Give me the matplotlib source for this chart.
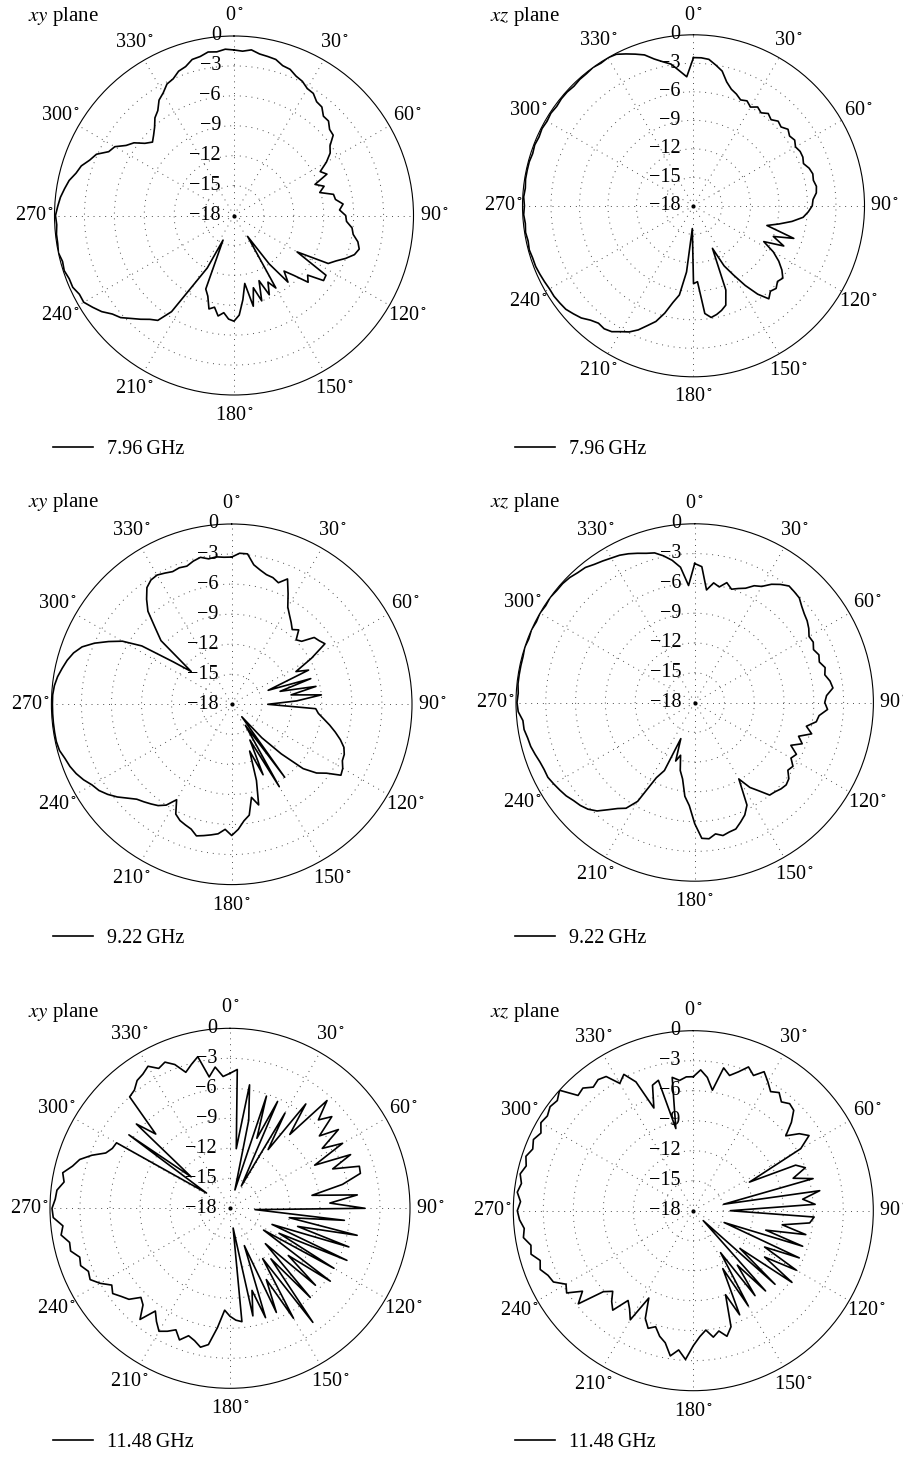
import numpy as np
import matplotlib.pyplot as plt
from matplotlib.transforms import offset_copy

plt.rcParams['font.family'] = ['Liberation Serif', 'DejaVu Serif']
plt.rcParams['mathtext.fontset'] = 'stix'

# measured gain (dB) every 3 degrees, 0..357
angles_deg = np.arange(0, 360, 3)

xy_796 = [-1.4, -1.5, -1.3, -1.6, -1.7, -1.8, -2.2, -2.3, -2.7, -2.9, -3.3, -3.4,
          -3.9, -4.0, -4.6, -4.6, -5.1, -5.2, -6.1, -6.5, -7.3, -8.3, -7.8, -9.3,
          -8.5, -9.1, -7.8, -7.7, -7.0, -7.4, -6.8, -6.7, -6.1, -5.9, -5.3, -5.0,
          -5.3, -6.0, -6.8, -7.4, -10.7, -7.0, -6.9, -8.5, -8.0, -9.5, -10.5, -9.4,
          -12.0, -15.5, -9.6, -10.5, -9.3, -11.0, -9.0, -10.5, -8.7, -11.1, -9.5, -8.0,
          -7.4, -7.6, -8.2, -7.8, -8.6, -8.3, -9.5, -10.1, -15.3, -12.1, -10.2, -6.5,
          -5.0, -4.6, -4.0, -3.4, -2.7, -2.3, -1.6, -1.1, -0.6, -0.6, -0.3, -0.3,
          -0.1, -0.2, 0.0, -0.1, -0.1, -0.2, -0.1, -0.3, -0.5, -0.8, -1.1, -1.6,
          -1.9, -2.5, -2.9, -3.9, -4.2, -5.1, -5.6, -6.5, -7.0, -6.6, -6.1, -5.4,
          -5.0, -4.2, -3.8, -3.2, -3.0, -2.5, -2.3, -1.8, -1.7, -1.4, -1.5, -1.3]

xz_796 = [-2.4, -2.4, -2.5, -3.0, -3.5, -4.5, -5.1, -5.4, -5.8, -5.6, -6.0, -5.6,
          -5.9, -5.5, -5.8, -5.4, -5.6, -5.2, -5.5, -5.3, -5.6, -5.4, -5.4, -5.6,
          -5.2, -5.0, -5.1, -4.9, -5.0, -5.4, -5.5, -5.9, -6.4, -7.5, -8.8, -10.0,
          -6.9, -9.0, -7.6, -9.7, -8.3, -7.3, -6.5, -5.9, -6.1, -5.7, -5.9, -5.4,
          -6.5, -8.0, -9.6, -10.9, -13.1, -8.5, -7.0, -6.6, -6.3, -6.1, -6.6, -10.0,
          -9.8, -15.6, -11.0, -8.5, -7.6, -6.3, -5.2, -4.5, -3.7, -3.1, -2.7, -2.2,
          -2.0, -2.1, -1.8, -1.3, -1.0, -0.7, -0.6, -0.5, -0.5, -0.4, -0.3, -0.2,
          -0.2, -0.1, -0.2, -0.1, -0.2, -0.1, -0.2, -0.1, -0.2, -0.1, -0.1, -0.1,
          -0.2, -0.1, -0.2, -0.1, -0.2, -0.1, -0.2, -0.1, -0.1, -0.2, -0.1, -0.1,
          0.0, -0.1, 0.0, -0.1, -0.5, -0.9, -1.3, -2.0, -2.5, -2.9, -3.7, -4.4]

xy_922 = [-3.3, -2.9, -2.9, -3.9, -4.3, -4.6, -4.7, -5.0, -4.3, -5.6, -6.8, -7.4,
          -7.9, -8.4, -8.0, -8.9, -8.6, -7.4, -7.2, -6.9, -8.8, -10.8, -9.6, -14.1,
          -9.7, -13.0, -9.4, -12.0, -9.0, -11.5, -14.4, -9.6, -9.3, -8.7, -8.0, -7.3,
          -6.6, -6.0, -5.7, -5.6, -5.2, -5.0, -6.3, -7.1, -8.4, -11.0, -13.5, -16.4,
          -9.0, -15.5, -8.5, -14.0, -10.3, -13.0, -10.0, -7.6, -8.5, -6.8, -6.3, -5.5,
          -4.9, -5.5, -5.0, -4.8, -4.6, -4.4, -4.9, -5.1, -5.3, -5.7, -7.0, -6.0,
          -5.5, -5.2, -4.9, -4.6, -4.0, -3.3, -2.7, -2.2, -1.9, -1.4, -1.0, -0.7,
          -0.5, -0.2, -0.1, -0.1, -0.1, -0.1, -0.1, -0.1, -0.2, -0.4, -0.7, -1.0,
          -1.4, -2.0, -3.0, -4.2, -5.4, -7.3, -10.8, -12.8, -8.5, -7.2, -5.5, -4.5,
          -3.6, -3.2, -3.1, -3.3, -3.5, -3.4, -3.5, -3.2, -3.0, -3.3, -3.2, -3.3]

xz_922 = [-4.0, -4.3, -6.6, -5.8, -6.1, -5.5, -6.0, -5.7, -5.4, -4.8, -4.5, -3.8,
          -3.3, -2.9, -3.0, -3.1, -3.5, -3.8, -4.0, -4.3, -4.7, -4.6, -4.9, -4.6,
          -4.8, -4.4, -4.6, -4.2, -4.0, -4.7, -4.9, -4.6, -5.4, -5.6, -6.5, -5.8,
          -7.0, -6.4, -7.4, -6.5, -6.8, -6.2, -6.4, -5.8, -5.6, -5.7, -5.9, -6.0,
          -7.0, -7.8, -9.1, -6.4, -5.6, -5.1, -4.6, -4.5, -4.3, -4.6, -4.2, -4.3,
          -5.8, -7.6, -8.5, -10.2, -11.0, -12.5, -11.8, -14.1, -10.5, -9.5, -6.5, -5.3,
          -4.8, -4.1, -3.3, -2.8, -2.5, -2.3, -2.0, -1.8, -1.6, -1.4, -1.4, -1.3,
          -1.1, -0.9, -0.8, -0.6, -0.6, -0.2, -0.1, -0.2, -0.1, -0.1, -0.1, -0.1,
          0.0, -0.1, 0.0, -0.1, 0.0, -0.1, 0.0, -0.1, -0.1, -0.2, -0.4, -0.5,
          -0.8, -1.0, -1.2, -1.35, -1.6, -1.9, -2.2, -2.4, -2.9, -3.5, -4.3, -6.2]

xy_1148 = [-4.5, -4.1, -12.0, -5.5, -9.0, -16.1, -6.2, -10.5, -6.3, -15.5, -7.0, -11.0,
           -5.1, -8.5, -3.5, -5.5, -4.3, -6.5, -4.6, -7.0, -5.0, -8.5, -4.8, -7.0,
           -4.4, -4.5, -6.5, -9.7, -5.2, -8.0, -4.5, -15.5, -6.5, -12.0, -5.0, -11.0,
           -5.5, -13.5, -5.2, -12.5, -6.0, -14.0, -5.6, -10.5, -6.5, -13.0, -6.0, -11.5,
           -3.9, -12.0, -5.3, -10.0, -6.6, -14.0, -6.5, -9.5, -7.0, -16.0, -6.6, -6.8,
           -7.2, -7.8, -6.0, -4.2, -3.8, -4.3, -4.6, -3.9, -4.7, -4.2, -3.8, -4.5,
           -5.3, -3.7, -5.0, -5.4, -4.4, -4.0, -3.5, -3.9, -3.0, -2.3, -2.5, -2.0,
           -2.2, -1.5, -1.6, -0.9, -1.2, -0.3, -0.2, -0.5, -0.6, -1.2, -0.9, -1.7,
           -2.2, -3.2, -4.4, -4.8, -4.9, -15.2, -5.5, -13.0, -5.4, -7.5, -3.0, -2.8,
           -2.2, -2.0, -1.6, -2.3, -2.0, -2.6, -3.7, -3.1, -2.5, -4.7, -3.8, -4.8]

xz_1148 = [-4.6, -3.9, -4.6, -5.8, -3.4, -4.0, -3.4, -2.6, -3.2, -2.4, -3.1, -3.8,
           -3.4, -4.0, -3.6, -3.8, -4.8, -6.1, -4.9, -4.2, -5.6, -11.7, -6.8, -6.0,
           -7.5, -5.6, -14.9, -5.2, -7.0, -5.8, -14.3, -5.9, -6.3, -9.0, -6.5, -10.5,
           -6.5, -14.7, -6.4, -10.0, -6.1, -9.5, -5.8, -12.0, -7.0, -16.6, -7.2, -11.0,
           -7.5, -13.0, -7.0, -11.5, -6.6, -9.0, -5.8, -5.0, -5.7, -5.2, -6.0, -5.4,
           -4.5, -3.1, -4.0, -3.3, -4.5, -5.0, -5.8, -5.4, -6.2, -8.2, -5.4, -6.3,
           -6.9, -5.2, -5.8, -6.6, -5.9, -3.2, -4.3, -2.9, -3.3, -2.3, -2.1, -1.6,
           -1.9, -1.2, -1.4, -0.8, -1.0, -0.6, -0.4, -0.7, -0.3, -0.6, -0.3, -0.7,
           -0.4, -0.8, -0.5, -0.9, -0.4, -0.6, -0.3, -0.5, 0.0, -1.7, -1.5, -2.1,
           -1.8, -2.0, -3.3, -2.7, -3.9, -7.0, -4.8, -4.5, -9.6, -4.5, -4.9, -4.6]

patterns = [[xy_796, xz_796], [xy_922, xz_922], [xy_1148, xz_1148]]
freqs = ['7.96', '9.22', '11.48']
planes = ['xy', 'xz']

rings = [-15, -12, -9, -6, -3]
ring_ticks = [0, -3, -6, -9, -12, -15, -18]
spokes = np.arange(0, 360, 30)

# canvas in pixels and each pattern's centre / radius
W, H = 904, 1478
geom = [[(234.0, 215.5, 179.5), (693.5, 205.8, 171.0)],
        [(231.7, 704.3, 180.3), (694.7, 702.5, 178.7)],
        [(230.0, 1208.3, 180.0), (693.3, 1210.7, 180.0)]]
title_y = [16, 503, 1013]
legend_y = [449, 938, 1442]
title_x = [28, 490]
legend_x = [53, 515]

fig = plt.figure(figsize=(W / 100, H / 100), dpi=100)
fs = 14.5

for row in range(3):
    for col in range(2):
        cx, cy, R = geom[row][col]
        ax = fig.add_axes([(cx - R) / W, (H - cy - R) / H, 2 * R / W, 2 * R / H],
                          projection='polar')
        ax.set_theta_zero_location('N')
        ax.set_theta_direction(-1)
        ax.set_ylim(-18, 0)
        ax.grid(False)
        ax.set_xticks([])
        ax.set_yticks([])
        ax.spines['polar'].set_linewidth(0.8)

        full = np.linspace(0, 2 * np.pi, 361)
        for r in rings:
            ax.plot(full, np.full_like(full, r), color='0.3', lw=0.7,
                    ls=(0, (1, 5)))
        for s in spokes:
            ax.plot([np.radians(s)] * 2, [-18, 0], color='0.3', lw=0.7,
                    ls=(0, (1, 5)))
        ax.plot([0], [-18], marker='o', ms=2, color='k')

        vals = patterns[row][col]
        th = np.radians(np.append(angles_deg, 360))
        rr = np.append(vals, vals[0])
        line, = ax.plot(th, rr, color='k', lw=1.2,
                        label=freqs[row] + '\u2009GHz')

        # angle labels outside the circle
        for s in spokes:
            a = np.radians(s)
            ax.text(0.5 + 0.557 * np.sin(a), 0.5 + 0.557 * np.cos(a),
                    f'{s}$^\\circ$', transform=ax.transAxes,
                    ha='center', va='center', fontsize=fs)

        # dB labels along the 0 degree spoke
        trans = offset_copy(ax.transData, fig=fig, x=-13, y=0, units='dots')
        for r in ring_ticks:
            lab = '0' if r == 0 else '\u2212' + str(-r)
            ax.text(0, r, lab, transform=trans, ha='right', va='center',
                    fontsize=fs)

        fig.text(title_x[col] / W, 1 - title_y[row] / H,
                 f'${planes[col]}$ plane', ha='left', va='center',
                 fontsize=fs + 0.5)

        ax.legend(handles=[line], loc='center left',
                  bbox_to_anchor=(legend_x[col] / W, 1 - legend_y[row] / H),
                  bbox_transform=fig.transFigure, frameon=False,
                  handlelength=2.0, handletextpad=0.7, borderpad=0,
                  borderaxespad=0, fontsize=fs)

fig.savefig('out.png', dpi=100)
